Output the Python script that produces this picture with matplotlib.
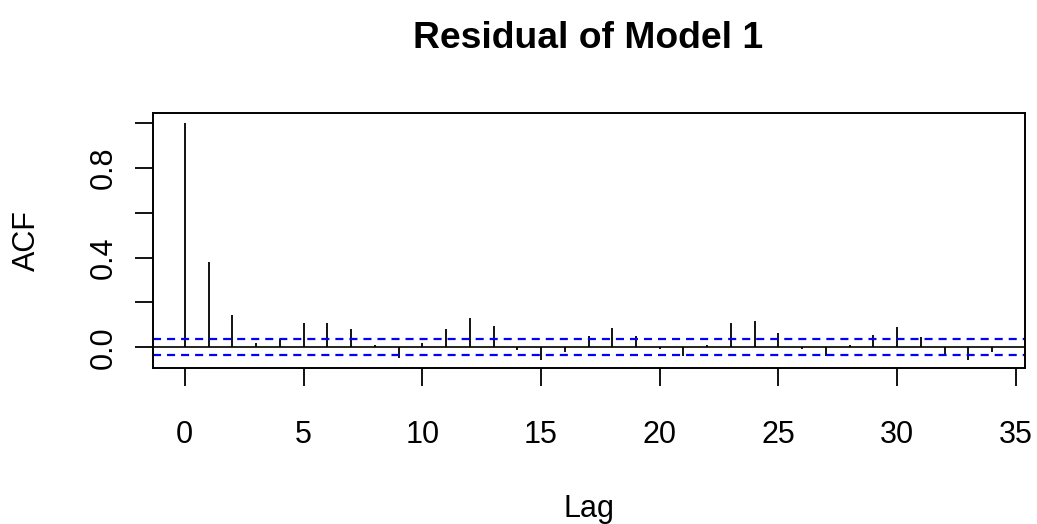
import matplotlib
matplotlib.use("Agg")
import matplotlib.pyplot as plt
import numpy as np

plt.rcParams['font.family'] = ['Liberation Sans', 'DejaVu Sans']
plt.rcParams['lines.scale_dashes'] = False

# Data
lags = list(range(0, 35))
acf_values = [1.0, 0.382, 0.143, 0.021, 0.037, 0.109, 0.109, 0.083, 0.010, -0.046,
              0.021, 0.080, 0.132, 0.097, -0.012, -0.058, -0.022, 0.052, 0.088, 0.052,
              -0.010, -0.037, 0.010, 0.107, 0.116, 0.062, -0.006, -0.037, 0.010, 0.054,
              0.089, 0.045, -0.031, -0.058, -0.022]
ci = 0.0357
x_ticks = [0, 5, 10, 15, 20, 25, 30, 35]
y_ticks = [0.0, 0.2, 0.4, 0.6, 0.8, 1.0]
y_tick_labels = ["0.0", "", "0.4", "", "0.8", ""]
title = "Residual of Model 1"

W, H = 1037, 524
fig = plt.figure(figsize=(W / 100, H / 100), dpi=100)
left_px, right_px, top_px, bottom_px = 152.5, 1024.5, 113.3, 368.3
ax = fig.add_axes([left_px / W, 1 - bottom_px / H,
                   (right_px - left_px) / W, (bottom_px - top_px) / H])

ax.vlines(lags, 0, acf_values, color='black', lw=1.3)
ax.axhline(0, color='black', lw=1.2)
for c in (ci, -ci):
    ax.axhline(c, color='#0000FF', lw=1.6, dashes=(5.8, 4.3))

ax.set_xlim(-1.36, 35.36)
ax.set_ylim(-0.094, 1.045)

ax.set_xticks(x_ticks)
ax.set_xticklabels([str(t) for t in x_ticks])
ax.set_yticks(y_ticks)
ax.set_yticklabels(y_tick_labels, rotation=90, va='center')

for sp in ax.spines.values():
    sp.set_linewidth(1.4)
ax.tick_params(axis='both', direction='out', length=13, width=1.3, labelsize=22)
ax.tick_params(axis='x', pad=24)
ax.tick_params(axis='y', pad=11)

ax.set_xlabel("Lag", fontsize=22, labelpad=32)
ax.set_ylabel("ACF", fontsize=22, labelpad=34)
ax.set_title(title, fontsize=26.8, fontweight='bold', pad=47)

fig.savefig("out.png", dpi=100)
